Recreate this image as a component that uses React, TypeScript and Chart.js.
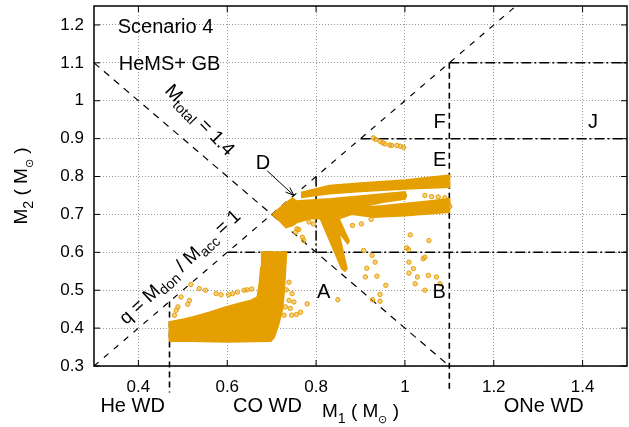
import React, { useEffect, useRef } from "react";
import { Chart, registerables } from "chart.js";
Chart.register(...registerables);

const FONT = '"Liberation Sans", Arial, Helvetica, sans-serif';
const ORANGE = "#E69F00";

// axis ticks
const xTicks = [0.4, 0.6, 0.8, 1.0, 1.2, 1.4];
const xTickLabels = ["0.4", "0.6", "0.8", "1", "1.2", "1.4"];
const yTicks = [0.3, 0.4, 0.5, 0.6, 0.7, 0.8, 0.9, 1.0, 1.1, 1.2];
const yTickLabels = ["0.3", "0.4", "0.5", "0.6", "0.7", "0.8", "0.9", "1", "1.1", "1.2"];

// outline of dense lower (CO WD) cloud
const lowerCloudX = [0.470, 0.470, 0.500, 0.522, 0.560, 0.597, 0.627, 0.652, 0.668, 0.673, 0.676, 0.678, 0.733, 0.731, 0.728, 0.724, 0.714, 0.705, 0.698, 0.600, 0.520, 0.470];
const lowerCloudY = [0.366, 0.416, 0.423, 0.429, 0.441, 0.455, 0.465, 0.472, 0.482, 0.520, 0.560, 0.600, 0.600, 0.560, 0.500, 0.450, 0.405, 0.375, 0.366, 0.364, 0.366, 0.366];

// outline of dense upper cloud (blob D, middle & lower bands, fingers)
const upperCloudX = [0.702, 0.717, 0.732, 0.747, 0.755, 0.833, 0.900, 1.000, 1.003, 1.000, 0.950, 0.885, 0.950, 1.000, 1.050, 1.100, 1.100, 1.050, 1.000, 0.930, 0.880, 0.851, 0.874, 0.871, 0.850, 0.869, 0.865, 0.858, 0.810, 0.788, 0.758, 0.747, 0.732, 0.721, 0.702];
const upperCloudY = [0.700, 0.715, 0.730, 0.742, 0.735, 0.741, 0.748, 0.759, 0.750, 0.741, 0.733, 0.716, 0.722, 0.728, 0.734, 0.741, 0.706, 0.702, 0.697, 0.693, 0.701, 0.689, 0.630, 0.624, 0.655, 0.557, 0.551, 0.557, 0.689, 0.689, 0.680, 0.671, 0.666, 0.680, 0.700];

// outline of the top band
const topBandX = [0.766, 0.830, 0.900, 1.000, 1.100, 1.100, 1.000, 0.900, 0.830, 0.766];
const topBandY = [0.757, 0.776, 0.782, 0.790, 0.803, 0.772, 0.768, 0.761, 0.755, 0.745];

// scattered individual systems
const scatterX = [
  0.485, 0.489, 0.481, 0.496, 0.511, 0.515, 0.518, 0.537, 0.551, 0.575, 0.586, 0.603, 0.612, 0.623, 0.638, 0.645, 0.655,
  0.739, 0.733, 0.746, 0.739, 0.750, 0.731, 0.742, 0.728, 0.745, 0.756, 0.765, 0.780, 0.849,
  0.754, 0.757, 0.761, 0.769, 0.772, 0.784, 0.794, 0.882, 0.902, 0.924, 1.012, 1.054, 1.004, 1.008,
  0.907, 0.926, 0.933, 0.914, 0.911, 0.937, 0.957, 0.944, 0.927, 0.944,
  1.009, 1.019, 1.009, 1.028, 1.023, 1.041, 1.045, 1.053, 1.071, 1.045, 1.079,
  1.045, 1.060, 1.075, 1.090, 1.097, 1.101,
  0.929, 0.934, 0.944, 0.950, 0.955, 0.966, 0.970, 0.982, 0.990, 0.997,
];
const scatterY = [
  0.447, 0.456, 0.434, 0.482, 0.463, 0.473, 0.515, 0.504, 0.500, 0.491, 0.488, 0.488, 0.491, 0.495, 0.500, 0.501, 0.503,
  0.521, 0.501, 0.491, 0.473, 0.469, 0.456, 0.452, 0.434, 0.434, 0.436, 0.442, 0.464, 0.475,
  0.653, 0.662, 0.660, 0.640, 0.631, 0.680, 0.675, 0.671, 0.675, 0.687, 0.646, 0.631, 0.612, 0.607,
  0.605, 0.592, 0.574, 0.558, 0.535, 0.537, 0.513, 0.489, 0.475, 0.471,
  0.574, 0.557, 0.545, 0.535, 0.517, 0.583, 0.587, 0.539, 0.535, 0.500, 0.517,
  0.750, 0.747, 0.746, 0.744, 0.732, 0.721,
  0.902, 0.898, 0.893, 0.889, 0.886, 0.883, 0.882, 0.882, 0.880, 0.877,
];

// reference lines (x pairs, y pairs)
const mTotalLineX = [0.3, 1.1];
const mTotalLineY = [1.1, 0.3];
const qLineX = [0.3, 1.245];
const qLineY = [0.3, 1.245];
const heCoX = [0.47, 0.47];
const heCoY = [0.47, 0.23];
const coOneX = [1.1, 1.1];
const coOneY = [1.1, 0.23];
const dashDotLines = [
  { x: [1.1, 1.5], y: [1.1, 1.1] },
  { x: [0.9, 1.5], y: [0.9, 0.9] },
  { x: [0.6, 1.5], y: [0.6, 0.6] },
  { x: [0.8, 0.8], y: [0.8, 0.6] },
  { x: [0.7, 0.8], y: [0.7, 0.7] },
];

// annotation texts
const labelTexts = ["Scenario 4", "HeMS+ GB", "F", "E", "J", "A", "B", "D"];
const labelX = [0.3533, 0.3556, 1.078, 1.078, 1.4235, 0.817, 1.077, 0.6806];
const labelY = [1.18, 1.08, 0.929, 0.8286, 0.929, 0.4785, 0.4785, 0.821];
const regionTexts = ["He WD", "CO WD", "ONe WD"];
const regionX = [0.387, 0.6906, 1.3125];
const arrowD = { x0: 0.69, y0: 0.815, x1: 0.75, y1: 0.75 };
const mTotalLabelPos = { x: 0.537, y: 0.948 };
const qLabelPos = { x: 0.4945, y: 0.560 };

type Part = { t: string; sub?: boolean; scale?: number };

function drawRich(ctx: CanvasRenderingContext2D, parts: Part[], x: number, y: number, size: number, angle: number, align: string, baseline: CanvasTextBaseline) {
  ctx.save();
  ctx.translate(x, y);
  ctx.rotate(angle);
  ctx.textBaseline = baseline;
  ctx.textAlign = "left";
  const fs = (p: Part) => size * (p.scale ?? (p.sub ? 0.75 : 1));
  let w = 0;
  const widths = parts.map((p) => {
    ctx.font = `${fs(p)}px ${FONT}`;
    const m = ctx.measureText(p.t).width;
    w += m;
    return m;
  });
  let cx = align === "center" ? -w / 2 : align === "right" ? -w : 0;
  parts.forEach((p, i) => {
    ctx.font = `${fs(p)}px ${FONT}`;
    ctx.fillText(p.t, cx, p.sub ? size * 0.3 : 0);
    cx += widths[i];
  });
  ctx.restore();
}

const titleParts = (n: string): Part[] => [
  { t: "M" },
  { t: n, sub: true },
  { t: " ( M" },
  { t: "\u2299", sub: true, scale: 0.6 },
  { t: " )" },
];

const decor = {
  id: "decor",
  afterDatasetsDraw(chart: any) {
    const { ctx, chartArea: a } = chart;
    const xs = chart.scales.x;
    const ys = chart.scales.y;
    ctx.save();
    ctx.setLineDash([]);
    ctx.strokeStyle = "#000";
    ctx.lineWidth = 1.5;
    ctx.strokeRect(a.left, a.top, a.right - a.left, a.bottom - a.top);
    ctx.lineWidth = 1;
    ctx.beginPath();
    xTicks.forEach((v) => {
      const p = xs.getPixelForValue(v);
      ctx.moveTo(p, a.bottom);
      ctx.lineTo(p, a.bottom - 6);
      ctx.moveTo(p, a.top);
      ctx.lineTo(p, a.top + 6);
    });
    yTicks.forEach((v) => {
      const p = ys.getPixelForValue(v);
      ctx.moveTo(a.left, p);
      ctx.lineTo(a.left + 6, p);
      ctx.moveTo(a.right, p);
      ctx.lineTo(a.right - 6, p);
    });
    ctx.stroke();

    ctx.fillStyle = "#000";
    labelTexts.forEach((t, i) => {
      drawRich(ctx, [{ t }], xs.getPixelForValue(labelX[i]), ys.getPixelForValue(labelY[i]), 20, 0, i < 2 ? "left" : "center", "alphabetic");
    });
    regionTexts.forEach((t, i) => {
      drawRich(ctx, [{ t }], xs.getPixelForValue(regionX[i]), a.bottom + 46, 20, 0, "center", "alphabetic");
    });
    // axis titles
    drawRich(ctx, titleParts("1"), (a.left + a.right) / 2, a.bottom + 51, 19, 0, "center", "alphabetic");
    drawRich(ctx, titleParts("2"), 27, (a.top + a.bottom) / 2, 19, -Math.PI / 2, "center", "alphabetic");
    // rotated line labels
    drawRich(ctx, [{ t: "M" }, { t: "total", sub: true }, { t: " = 1.4" }], xs.getPixelForValue(mTotalLabelPos.x), ys.getPixelForValue(mTotalLabelPos.y), 19, (46 * Math.PI) / 180, "center", "middle");
    drawRich(ctx, [{ t: "q = M" }, { t: "don", sub: true }, { t: " / M" }, { t: "acc", sub: true }, { t: " = 1" }], xs.getPixelForValue(qLabelPos.x), ys.getPixelForValue(qLabelPos.y), 19, (-43 * Math.PI) / 180, "center", "middle");

    // D arrow
    const x0 = xs.getPixelForValue(arrowD.x0), y0 = ys.getPixelForValue(arrowD.y0);
    const x1 = xs.getPixelForValue(arrowD.x1), y1 = ys.getPixelForValue(arrowD.y1);
    ctx.lineWidth = 1;
    ctx.beginPath();
    ctx.moveTo(x0, y0);
    ctx.lineTo(x1, y1);
    const ang = Math.atan2(y1 - y0, x1 - x0);
    ctx.moveTo(x1 - 9 * Math.cos(ang - 0.35), y1 - 9 * Math.sin(ang - 0.35));
    ctx.lineTo(x1, y1);
    ctx.lineTo(x1 - 9 * Math.cos(ang + 0.35), y1 - 9 * Math.sin(ang + 0.35));
    ctx.stroke();
    ctx.restore();
  },
};

const pts = (xs: number[], ys: number[]) => xs.map((x, i) => ({ x, y: ys[i] }));

const refLine = (xs: number[], ys: number[], dash: number[], width: number) => ({
  type: "line" as const,
  data: pts(xs, ys),
  borderColor: "#000",
  borderWidth: width,
  borderDash: dash,
  pointRadius: 0,
  fill: false,
  tension: 0,
  clip: false as any,
});

const poly = (xs: number[], ys: number[]) => ({
  type: "line" as const,
  data: pts(xs, ys),
  borderColor: ORANGE,
  backgroundColor: ORANGE,
  borderWidth: 2,
  pointRadius: 0,
  fill: "shape",
  tension: 0,
});

export default function App() {
  const ref = useRef<HTMLCanvasElement>(null);
  useEffect(() => {
    if (!ref.current) return;
    const chart = new Chart(ref.current, {
      type: "scatter",
      data: {
        datasets: [
          {
            type: "scatter",
            data: pts(scatterX, scatterY),
            pointRadius: 2.2,
            borderWidth: 1,
            borderColor: ORANGE,
            backgroundColor: "rgba(236,170,40,0.55)",
          } as any,
          poly(topBandX, topBandY),
          poly(upperCloudX, upperCloudY),
          poly(lowerCloudX, lowerCloudY),
          refLine(mTotalLineX, mTotalLineY, [7, 6], 1.2),
          refLine(qLineX, qLineY, [6, 7], 1.2),
          refLine(heCoX, heCoY, [6, 4], 1.6),
          refLine(coOneX, coOneY, [6, 4], 1.6),
          ...dashDotLines.map((l) => refLine(l.x, l.y, [10, 3, 2, 3], 1.5)),
        ] as any,
      },
      options: {
        responsive: false,
        animation: false,
        layout: { padding: { top: 6, right: 2, left: 0, bottom: 0 } },
        plugins: { legend: { display: false }, tooltip: { enabled: false } },
        scales: {
          x: {
            type: "linear",
            min: 0.3,
            max: 1.5,
            afterBuildTicks: (s: any) => {
              s.ticks = xTicks.map((v) => ({ value: v }));
            },
            afterFit: (s: any) => {
              s.height = 61;
              s.paddingLeft = 0;
              s.paddingRight = 0;
            },
            ticks: {
              callback: (v: any) => xTickLabels[xTicks.findIndex((t) => Math.abs(t - v) < 1e-6)] ?? "",
              font: { family: FONT, size: 17 },
              color: "#000",
              padding: 11,
              maxRotation: 0,
              autoSkip: false,
            },
            grid: { color: "#9a9a9a", lineWidth: 1, drawTicks: false },
            border: { display: false, dash: [1, 2] },
          },
          y: {
            type: "linear",
            min: 0.3,
            max: 1.25,
            afterBuildTicks: (s: any) => {
              s.ticks = yTicks.map((v) => ({ value: v }));
            },
            afterFit: (s: any) => {
              s.width = 94;
              s.paddingTop = 0;
              s.paddingBottom = 0;
            },
            ticks: {
              callback: (v: any) => yTickLabels[yTicks.findIndex((t) => Math.abs(t - v) < 1e-6)] ?? "",
              font: { family: FONT, size: 17 },
              color: "#000",
              padding: 10,
              autoSkip: false,
            },
            grid: { color: "#9a9a9a", lineWidth: 1, drawTicks: false },
            border: { display: false, dash: [1, 2] },
          },
        },
      } as any,
      plugins: [decor],
    });
    return () => chart.destroy();
  }, []);
  return (
    <div style={{ position: "fixed", left: 0, top: 0, width: 629, height: 427, overflow: "hidden", background: "#fff" }}>
      <canvas ref={ref} width={632} height={427} style={{ display: "block" }} />
    </div>
  );
}
